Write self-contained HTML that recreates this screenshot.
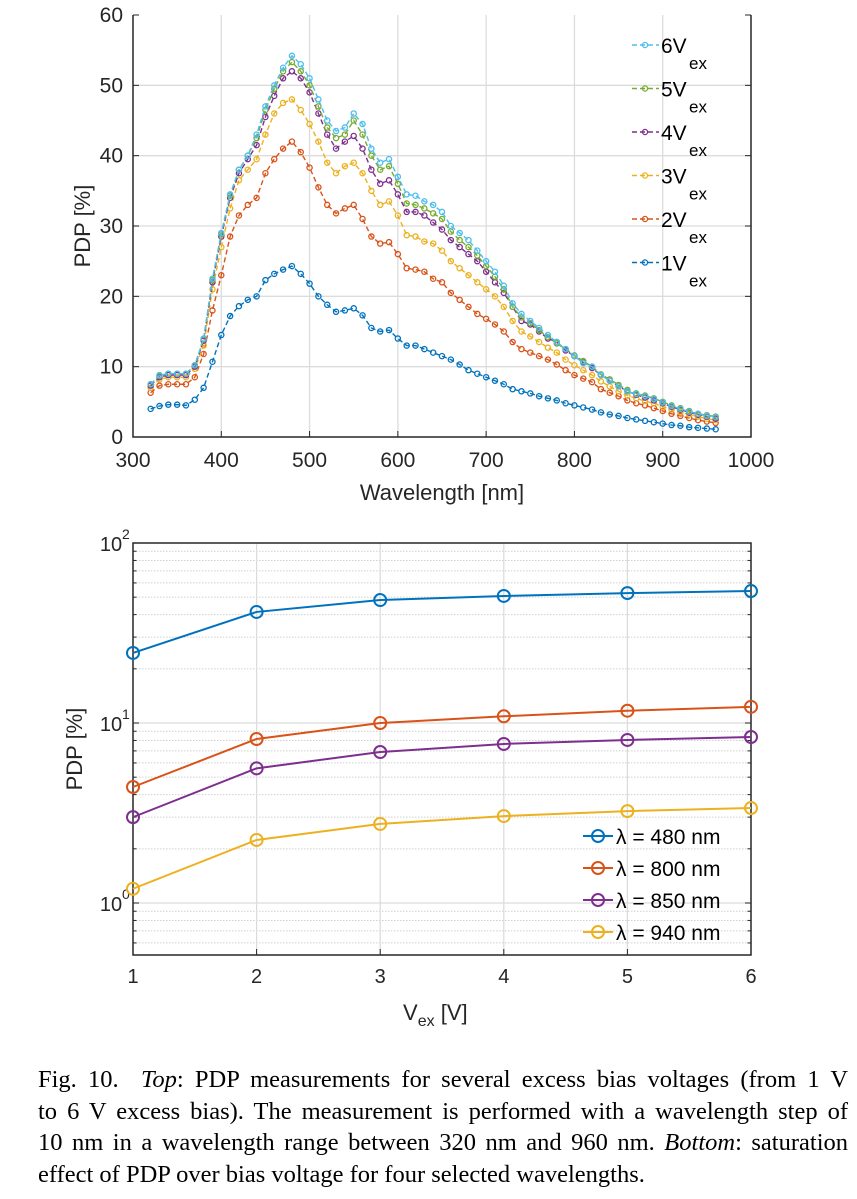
<!DOCTYPE html>
<html><head><meta charset="utf-8">
<style>
body{margin:0;background:#fff;width:857px;height:1199px;overflow:hidden;position:relative}
svg{position:absolute;left:0;top:0}
#cap{position:absolute;left:38px;top:1064px;width:810px;font-family:"Liberation Serif",serif;font-size:24.5px;line-height:31.5px;color:#000}
#cap .ln{display:block;text-align:justify;text-align-last:justify;white-space:nowrap}
#cap .ln.last{text-align-last:left}
</style></head>
<body>
<svg id="chart" width="857" height="1060"></svg>
<div id="cap"><span class="ln">Fig. 10.&nbsp; <i>Top</i>: PDP measurements for several excess bias voltages (from 1 V</span><span class="ln">to 6 V excess bias). The measurement is performed with a wavelength step of</span><span class="ln">10 nm in a wavelength range between 320 nm and 960 nm. <i>Bottom</i>: saturation</span><span class="ln last">effect of PDP over bias voltage for four selected wavelengths.</span></div>
<script>
const wl0=320, wlStep=10;
const pdp1=[4,4.4,4.6,4.6,4.5,5.3,7,10.7,14.5,17.2, 18.6,19.5,20,22.3,23.2,23.8,24.3,23.2,21.8,20, 18.8,17.8,18,18.3,17.3,15.5,15,15.2,14,13, 13,12.5,12,11.5,11,10.3,9.5,9,8.5,8, 7.5,6.8,6.5,6.2,5.8,5.5,5.2,4.8,4.5,4.2, 3.9,3.5,3.2,3,2.7,2.5,2.3,2.1,1.9,1.7, 1.6,1.4,1.3,1.2,1.1];
const pdp2=[6.3,7.3,7.5,7.5,7.5,8.5,11.8,18,23,28.5, 31.5,33,34,37.5,39.5,41,42,40.5,38.3,35.5, 33,31.8,32.5,33,31,28.5,27.5,27.7,26,24, 23.8,23.5,22.5,22,20.5,19.5,18.5,17.5,16.8,16, 15,13.5,12.5,12,11.5,11,10.3,9.5,8.8,8.3, 7.8,6.8,6.3,5.8,5.2,4.8,4.5,4.1,3.7,3.3, 3,2.7,2.4,2.2,2];
const pdp3=[7,8.2,8.5,8.5,8.5,9.7,13,21,27,32.5, 36.5,38,39.5,43,46,47.5,48,46.5,44.5,42, 39,37.5,38.5,39,37.5,35,33,33.5,31.5,28.7, 28.5,27.8,27.5,26.5,25,24,23,22,21,20, 18.5,16.5,15,14.3,13.5,12.7,12,11,10.2,9.5, 8.8,7.9,7.2,6.5,5.9,5.5,5.1,4.8,4.3,3.9, 3.5,3.2,2.9,2.6,2.4];
const pdp4=[7.3,8.5,8.8,8.8,8.8,10,13.7,22,28.5,34, 37.5,39.5,41.5,45.5,48.5,51,52,51,49,46, 43,41,42,42.8,41,38,36,36.5,34.5,32, 32,31.5,30.5,29.5,28,27,26,25,23.5,22, 20.5,18.5,16.5,16,15,14,13.5,12.3,11.5,10.6, 9.8,8.8,8,7.2,6.5,6,5.6,5.2,4.8,4.3, 3.9,3.5,3.2,2.9,2.6];
const pdp5=[7.5,8.7,9,9,9,10.2,13.9,22.3,28.8,34.3, 38,40,42.5,46.5,49.5,52,53.3,52,50,47, 44,42.5,43,45,43,40,38,38.5,36,33.2, 33,32.5,31.8,31,29.2,28,27,25.8,24.3,22.8, 21,18.5,17,16.2,15.2,14.2,13.3,12.5,11.6,10.8, 10,8.9,8.2,7.4,6.7,6.2,5.9,5.5,5,4.5, 4.1,3.7,3.3,3.1,2.9];
const pdp6=[7.5,8.8,9,9,9,10.2,14,22.5,29,34.5, 38,40,43,47,50,52.5,54.2,53,51,48, 45,43.5,44,46,44.5,41,39,39.5,37,34.5, 34.3,33.5,33,32,30,29,28,26.5,25,23.5, 21.5,19,17.5,16.5,15.5,14.5,13.5,12.5,11.5,10.5, 10,8.8,8,7.2,6.5,6.1,5.8,5.4,4.9,4.4, 4,3.6,3.3,3,2.8];
const topXTicks=[300,400,500,600,700,800,900,1000];
const topYTicks=[0,10,20,30,40,50,60];
const seriesNames=["1","2","3","4","5","6"];
const vex=[1,2,3,4,5,6];
const b480=[24.5,41.4,48.2,50.8,52.7,54.1];
const b800=[4.41,8.15,10,10.9,11.7,12.3];
const b850=[3.0,5.6,6.9,7.65,8.05,8.36];
const b940=[1.2,2.24,2.75,3.04,3.24,3.37];
const bLabels=["480","800","850","940"];

const NS="http://www.w3.org/2000/svg";
const svg=document.getElementById('chart');
function mk(tag,attrs,parent){const e=document.createElementNS(NS,tag);for(const k in attrs)e.setAttribute(k,attrs[k]);(parent||svg).appendChild(e);return e;}
const F='"Liberation Sans",Arial,sans-serif';

// ---------- TOP ----------
const TL=133,TR=751,TT=15,TB=437;
const tx=v=>TL+(v-300)/700*(TR-TL);
const ty=v=>TB-(v/60)*(TB-TT);
const gTop=mk('g',{});


topXTicks.forEach(t=>{
  if(t>300&&t<1000){const l=mk('line',{x1:tx(t),x2:tx(t),y1:TT,y2:TB,stroke:'#dcdcdc','stroke-width':1.3},gTop);}
  mk('line',{x1:tx(t),x2:tx(t),y1:TB,y2:TB-6,stroke:'#262626'},gTop);
  const s=mk('text',{x:tx(t),y:TB+30,'font-family':F,'font-size':21,'text-anchor':'middle',fill:'#262626'},gTop);s.textContent=t;
  
});
topYTicks.forEach(t=>{
  if(t>0&&t<60){const l=mk('line',{x1:TL,x2:TR,y1:ty(t),y2:ty(t),stroke:'#dcdcdc','stroke-width':1.3},gTop);}
  mk('line',{x1:TL,x2:TL+6,y1:ty(t),y2:ty(t),stroke:'#262626'},gTop);
  mk('line',{x1:TR,x2:TR-6,y1:ty(t),y2:ty(t),stroke:'#262626'},gTop);
  const s=mk('text',{x:TL-10,y:ty(t)+7,'font-family':F,'font-size':21,'text-anchor':'end',fill:'#262626'},gTop);s.textContent=t;
  
});
const topBox=mk('path',{d:`M${TL} ${TT} V${TB} H${TR} V${TT}`,fill:'none',stroke:'#262626','stroke-width':1.5},gTop);

const topCols=['#0072bd','#d95319','#edb120','#7e2f8e','#77ac30','#4dbeee'];
[pdp1,pdp2,pdp3,pdp4,pdp5,pdp6].forEach((arr,i)=>{
  const g=mk('g',{},gTop);
  
  
  const pts=arr.map((v,j)=>tx(wl0+j*wlStep)+','+ty(v)).join(' ');
  mk('polyline',{points:pts,fill:'none',stroke:topCols[i],'stroke-width':1.4,'stroke-dasharray':'5,3'},g);
  arr.forEach((v,j)=>{const c=mk('circle',{cx:tx(wl0+j*wlStep),cy:ty(v),r:2.6,fill:'none',stroke:topCols[i],'stroke-width':1.3},g);
    });
});
for(let i=5;i>=0;i--){
  const y=45+(5-i)*43.5;
  const g=mk('g',{},gTop);
  
  
  mk('line',{x1:632,x2:659,y1:y,y2:y,stroke:topCols[i],'stroke-width':1.4,'stroke-dasharray':'5,3'},g);
  mk('circle',{cx:645,cy:y,r:2.6,fill:'none',stroke:topCols[i],'stroke-width':1.3},g);
  const t=mk('text',{x:661,y:y+8,'font-family':F,'font-size':21,fill:'#000'},g);t.textContent=seriesNames[i]+'V';
  const s=mk('text',{x:689,y:y+24,'font-family':F,'font-size':17,fill:'#000'},g);s.textContent='ex';
}
let yl=mk('text',{x:0,y:0,'font-family':F,'font-size':22,'text-anchor':'middle',fill:'#262626',transform:`translate(90,${(TT+TB)/2}) rotate(-90)`},gTop);
yl.textContent='PDP [%]';
let xl=mk('text',{x:(TL+TR)/2,y:TB+63,'font-family':F,'font-size':22,'text-anchor':'middle',fill:'#262626'},gTop);
xl.textContent='Wavelength [nm]';

// ---------- BOTTOM ----------
const BL=133,BR=751,BT=543,BB=955;
const bx=v=>BL+(v-1)/5*(BR-BL);
const by=v=>903-Math.log10(v)*180;
const gB=mk('g',{});


for(let d=-1;d<=1;d++){for(let m=1;m<=9;m++){const v=m*Math.pow(10,d);const y=by(v);if(y<BT-0.5||y>BB+0.5)continue;
  if(m===1){if(y>BT+1)mk('line',{x1:BL,x2:BR,y1:y,y2:y,stroke:'#dcdcdc','stroke-width':1.3},gB);}
  else {mk('line',{x1:BL,x2:BR,y1:y,y2:y,stroke:'#cfcfcf','stroke-width':1,'stroke-dasharray':'1.5,1.5'},gB);}
  const len=m===1?6:3.5;
  mk('line',{x1:BL,x2:BL+len,y1:y,y2:y,stroke:'#262626'},gB);
  mk('line',{x1:BR,x2:BR-len,y1:y,y2:y,stroke:'#262626'},gB);
}}
vex.forEach(v=>{
  if(v>1&&v<6)mk('line',{x1:bx(v),x2:bx(v),y1:BT,y2:BB,stroke:'#dcdcdc','stroke-width':1.3},gB);
  mk('line',{x1:bx(v),x2:bx(v),y1:BB,y2:BB-6,stroke:'#262626'},gB);
  const s=mk('text',{x:bx(v),y:BB+28,'font-family':F,'font-size':20,'text-anchor':'middle',fill:'#262626'},gB);s.textContent=v;
  
});
[0,1,2].forEach(e=>{const y=by(Math.pow(10,e));
  const t=mk('text',{x:BL-22,y:y+8,'font-family':F,'font-size':20,'text-anchor':'middle',fill:'#262626'},gB);t.textContent='10';
  
  const s=mk('text',{x:BL-11,y:y-4,'font-family':F,'font-size':14,fill:'#262626'},gB);s.textContent=e;
});
const bBox=mk('rect',{x:BL,y:BT,width:BR-BL,height:BB-BT,fill:'none',stroke:'#262626','stroke-width':1.5},gB);

const bCols=['#0072bd','#d95319','#7e2f8e','#edb120'];
[b480,b800,b850,b940].forEach((arr,i)=>{
  const g=mk('g',{},gB);
  
  
  mk('polyline',{points:arr.map((v,j)=>bx(vex[j])+','+by(v)).join(' '),fill:'none',stroke:bCols[i],'stroke-width':2},g);
  arr.forEach((v,j)=>{const c=mk('circle',{cx:bx(vex[j]),cy:by(v),r:6,fill:'none',stroke:bCols[i],'stroke-width':2},g);
    });
});
bLabels.forEach((lab,i)=>{
  const y=836+i*32;
  const g=mk('g',{},gB);
  
  
  mk('line',{x1:583,x2:613,y1:y,y2:y,stroke:bCols[i],'stroke-width':2},g);
  mk('circle',{cx:598,cy:y,r:6,fill:'none',stroke:bCols[i],'stroke-width':2},g);
  const t=mk('text',{x:616,y:y+8,'font-family':F,'font-size':21,fill:'#000'},g);t.textContent='λ = '+lab+' nm';
});
yl=mk('text',{x:0,y:0,'font-family':F,'font-size':22,'text-anchor':'middle',fill:'#262626',transform:`translate(82,${(BT+BB)/2}) rotate(-90)`},gB);
yl.textContent='PDP [%]';
const xt=mk('text',{x:403,y:1020,'font-family':F,'font-size':22,fill:'#262626'},gB);

xt.textContent='V';
const sub=mk('tspan',{'font-size':16,dy:6},xt);sub.textContent='ex';
const rest=mk('tspan',{dy:-6},xt);rest.textContent=' [V]';
</script>
</body></html>
